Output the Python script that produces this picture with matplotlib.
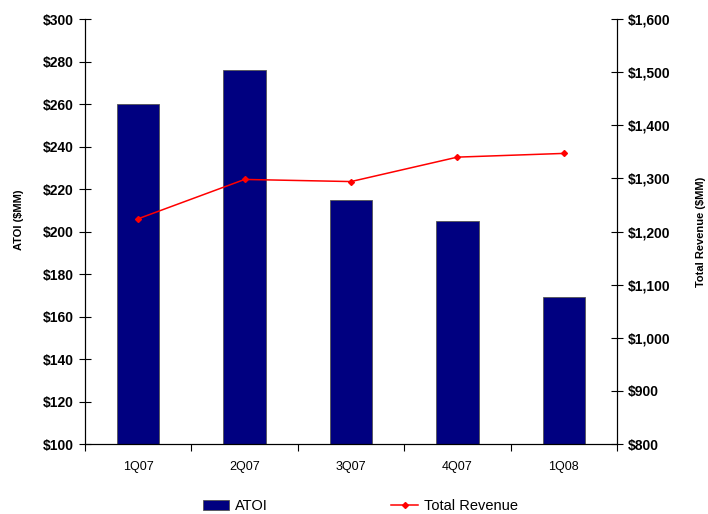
import matplotlib
matplotlib.use('Agg')
import matplotlib.pyplot as plt
from matplotlib.ticker import FuncFormatter
import numpy as np

plt.rcParams['font.family'] = ['Liberation Sans', 'DejaVu Sans']

# --- dados ---
quarters = ['1Q07', '2Q07', '3Q07', '4Q07', '1Q08']
atoi = [260, 276, 215, 205, 169]
total_revenue = [1224, 1298, 1294, 1340, 1347]
# -------------

fig = plt.figure(figsize=(7.08, 5.14), dpi=100)
ax = fig.add_axes([85 / 708, 1 - 444 / 514, 532 / 708, 425 / 514])
ax2 = ax.twinx()

x = np.arange(len(quarters))
ax.bar(x, atoi, width=0.4, color='#000080', edgecolor='#555555', linewidth=0.6,
       label='ATOI', zorder=2)
ax2.plot(x, total_revenue, color='red', lw=1.1, marker='D', markersize=3,
         label='Total Revenue', zorder=3)

ax.set_xlim(-0.5, len(quarters) - 0.5)
ax.set_ylim(100, 300)
ax.set_yticks(range(100, 301, 20))
ax.yaxis.set_major_formatter(FuncFormatter(lambda v, p: f'${v:,.0f}'))
ax2.set_ylim(800, 1600)
ax2.set_yticks(range(800, 1601, 100))
ax2.yaxis.set_major_formatter(FuncFormatter(lambda v, p: f'${v:,.0f}'))

# ticks nas fronteiras das categorias, rótulos no centro
ax.set_xticks(np.arange(-0.5, len(quarters), 1.0))
ax.set_xticklabels([])
ax.set_xticks(x, minor=True)
ax.set_xticklabels(quarters, minor=True, fontsize=9)
ax.tick_params(axis='x', which='major', direction='out', length=5, width=0.8)
ax.tick_params(axis='x', which='minor', length=0, pad=12)

ax.tick_params(axis='y', direction='inout', length=8, width=0.8, labelsize=10, pad=4)
ax2.tick_params(axis='y', direction='inout', length=8, width=0.8, labelsize=10, pad=4)
for lbl in ax.get_yticklabels() + ax2.get_yticklabels():
    lbl.set_fontweight('bold')

for a in (ax, ax2):
    a.spines['top'].set_visible(False)
    for s in ('left', 'right', 'bottom'):
        a.spines[s].set_linewidth(0.8)

ax.set_ylabel('ATOI ($MM)', fontsize=8, fontweight='bold')
ax.yaxis.set_label_coords(-0.114, 0.527)
ax2.set_ylabel('Total Revenue ($MM)', fontsize=8, fontweight='bold', labelpad=18)

h1, l1 = ax.get_legend_handles_labels()
h2, l2 = ax2.get_legend_handles_labels()
fig.legend(h1 + h2, l1 + l2, loc='center', bbox_to_anchor=(360 / 708, 1 - 506 / 514),
           ncol=2, frameon=False, fontsize=10.5, columnspacing=8.5, handlelength=1.8,
           handletextpad=0.4)

fig.savefig('out.png', dpi=100)
